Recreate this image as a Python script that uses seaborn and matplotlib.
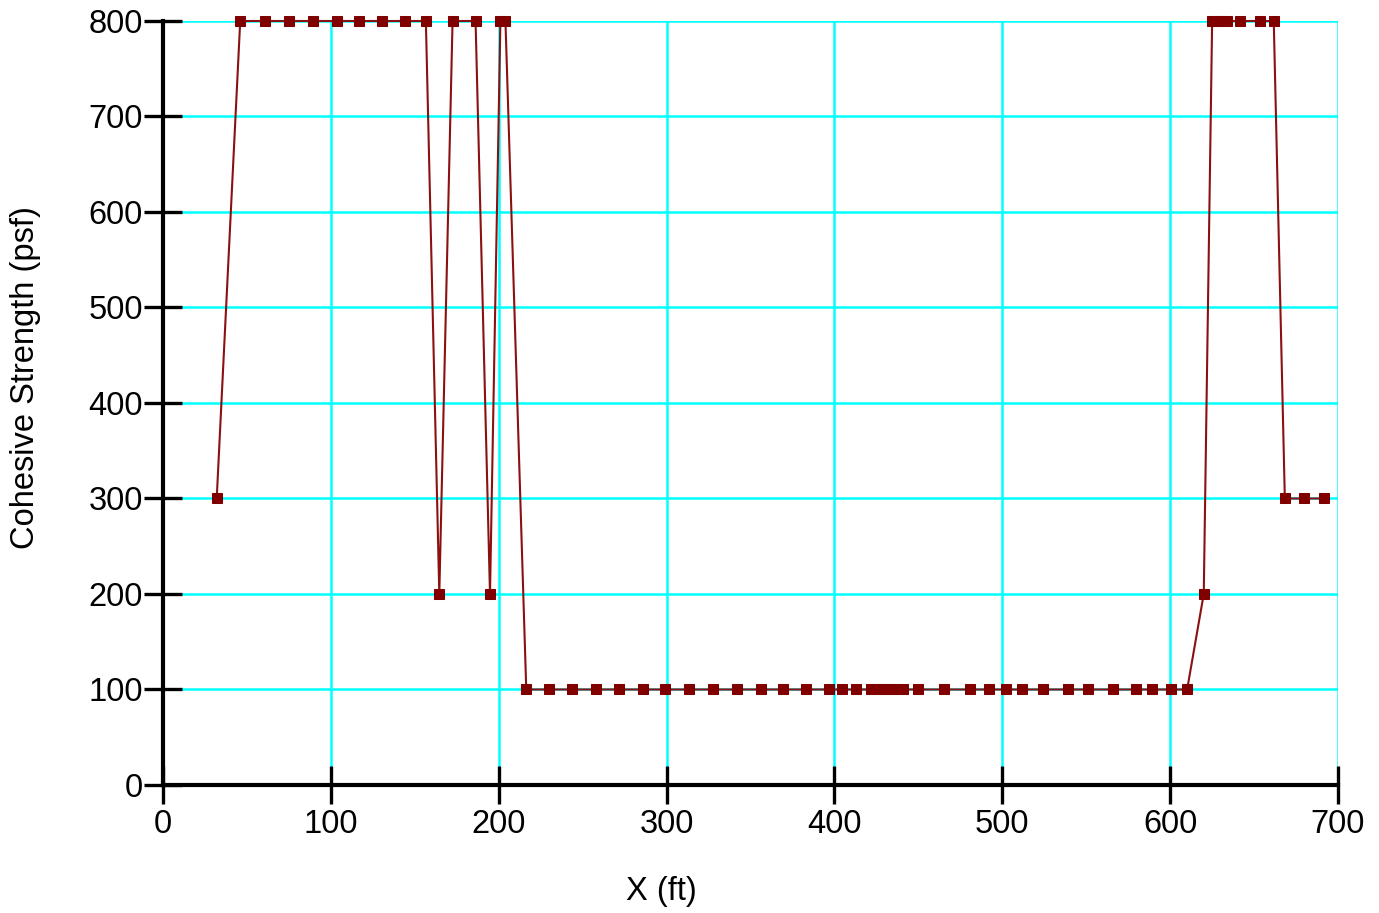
import pandas as pd
import seaborn as sns
import matplotlib.pyplot as plt

# x positions (ft) and cohesive strength (psf)
x_ft = [32, 46, 61, 75, 89.5, 103.5, 117, 130.6, 144, 156.6,
        164.6, 172.5, 186.2, 194.8, 201, 204,
        216.4, 229.9, 243.4, 257.7, 271.8, 286.1, 299, 313.3, 327.4, 342.1,
        356.4, 369.5, 383, 396.9, 404.2, 412.7, 422, 425, 428, 431, 434, 437,
        441, 450, 465.3, 480.6, 492.2, 502.1, 511.7, 524.3, 539.2, 551.3,
        566.2, 579.7, 589.2, 600.2, 610.1,
        620, 625, 628, 631, 634, 641.5, 653.4, 661.7,
        668.3, 679.6, 691.5]
strength = ([300] + [800] * 9 + [200, 800, 800, 200, 800, 800]
            + [100] * 37 + [200] + [800] * 7 + [300] * 3)

xticks = [0, 100, 200, 300, 400, 500, 600, 700]
yticks = [0, 100, 200, 300, 400, 500, 600, 700, 800]

df = pd.DataFrame({'x': x_ft, 'c': strength})

sns.set_style('white')
plt.rcParams['font.family'] = ['Liberation Sans', 'DejaVu Sans']

fig = plt.figure(figsize=(13.79, 9.13), dpi=100)
ax = fig.add_axes([0.1182, 0.1402, 0.8521, 0.8368])

ax.set_xlim(0, 700)
ax.set_ylim(0, 800)
ax.set_xticks(xticks)
ax.set_yticks(yticks)
ax.grid(True, color='#00FFFF', linewidth=1.8)
ax.set_axisbelow(True)

sns.lineplot(data=df, x='x', y='c', sort=False, estimator=None, ax=ax,
             color='#8B1010', linewidth=1.5, marker='s', markersize=7.5,
             markerfacecolor='#800000', markeredgecolor='#800000', clip_on=False,
             zorder=5)

for s in ['top', 'right']:
    ax.spines[s].set_visible(False)
for s in ['left', 'bottom']:
    ax.spines[s].set_color('black')
    ax.spines[s].set_linewidth(3)

ax.tick_params(axis='both', direction='inout', length=27, width=2.4,
               color='black', labelsize=23.5, labelcolor='black', pad=1,
               bottom=True, left=True)
ax.tick_params(axis='x', pad=4)

ax.set_xlabel('X (ft)', fontsize=23.5, color='black', va='center')
ax.set_ylabel('Cohesive Strength (psf)', fontsize=23.5, color='black', va='center')
ax.xaxis.set_label_coords(0.424, -0.140)
ax.yaxis.set_label_coords(-0.117, 0.533)

plt.savefig('out.png', dpi=100)
